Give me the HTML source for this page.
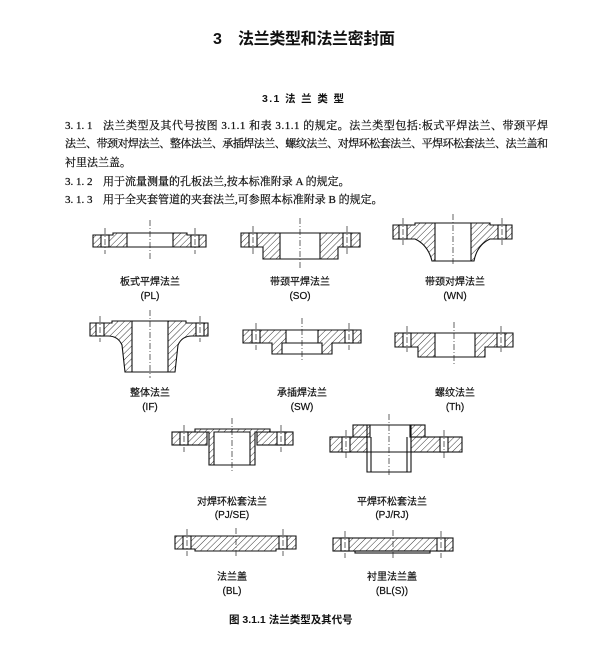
<!DOCTYPE html>
<html><head><meta charset="utf-8"><style>
html,body{margin:0;padding:0;background:#fff;}
svg{display:block;}
.t{font-family:"Liberation Serif","Noto Serif CJK SC",serif;fill:#111;stroke:#111;stroke-width:0.25;}
.b{font-family:"Liberation Sans","Noto Sans CJK SC",sans-serif;fill:#111;font-weight:bold;}
.h{fill:url(#hat);stroke:#111;stroke-width:1.1;}
.w{fill:#fff;stroke:#111;stroke-width:1.1;}
.o{fill:none;stroke:#111;stroke-width:1.1;}
.c{stroke:#222;stroke-width:0.7;stroke-dasharray:6 2 1 2;fill:none;}
.l{font-family:"Liberation Sans","Noto Sans CJK SC",sans-serif;font-size:10px;fill:#111;text-anchor:middle;stroke:#111;stroke-width:0.2;}
</style></head><body>
<svg width="600" height="652" viewBox="0 0 600 652" xmlns="http://www.w3.org/2000/svg">
<defs><pattern id="hat" width="4.5" height="4.5" patternUnits="userSpaceOnUse" patternTransform="rotate(45)"><rect width="4.5" height="4.5" fill="#fff"/><line x1="0" y1="0" x2="0" y2="4.5" stroke="#222" stroke-width="0.9"/></pattern></defs>
<rect width="600" height="652" fill="#fff"/>
<text class="b" x="213" y="44" font-size="16">3</text>
<text class="b" x="238" y="44" font-size="16" textLength="157">法兰类型和法兰密封面</text>
<text class="b" x="262" y="102" font-size="10.5" textLength="82">3.1  法 兰 类 型</text>
<g class="t" font-size="11">
<text x="65" y="129">3. 1. 1</text><text x="103" y="129" textLength="445">法兰类型及其代号按图 3.1.1 和表 3.1.1 的规定。法兰类型包括:板式平焊法兰、带颈平焊</text>
<text x="65" y="147" textLength="483">法兰、带颈对焊法兰、整体法兰、承插焊法兰、螺纹法兰、对焊环松套法兰、平焊环松套法兰、法兰盖和</text>
<text x="65" y="166">衬里法兰盖。</text>
<text x="65" y="185">3. 1. 2</text><text x="103" y="185">用于流量测量的孔板法兰,按本标准附录 A 的规定。</text>
<text x="65" y="203">3. 1. 3</text><text x="103" y="203">用于全夹套管道的夹套法兰,可参照本标准附录 B 的规定。</text>
</g>

<!-- PL -->
<path class="h" d="M93,235H113V233H127V247H93Z"/><path class="h" d="M173,233H187V235H206V247H173Z"/>
<path class="o" d="M127,233H173M127,247H173"/>
<rect class="w" x="101" y="235" width="8" height="12"/><rect class="w" x="191" y="235" width="8" height="12"/>
<path class="c" d="M150,220V260M105,228V254M195,228V254"/>
<!-- SO -->
<path class="h" d="M241,233H280V259H263V247H241Z"/><path class="h" d="M320,233H360V247H338V259H320Z"/>
<path class="o" d="M280,233H320M280,259H320"/>
<rect class="w" x="249" y="233" width="8" height="14"/><rect class="w" x="343" y="233" width="8" height="14"/>
<path class="c" d="M300,218V268M253,226V254M347,226V254"/>
<!-- WN -->
<path class="h" d="M393,225H415V223H435V261H432Q428,245 415,239H393Z"/><path class="h" d="M471,223H490V225H512V239H490Q477,245 474,261H471Z"/>
<path class="o" d="M435,223H471M435,261H471"/>
<rect class="w" x="399" y="225" width="8" height="14"/><rect class="w" x="498" y="225" width="8" height="14"/>
<path class="c" d="M453,214V266M403,218V245M502,218V245"/>
<!-- IF -->
<path class="h" d="M90,323H112V321H132V372H125L122,345Q118,336 108,336H90Z"/><path class="h" d="M168,321H186V323H208V336H192Q182,336 178,345L175,372H168Z"/>
<path class="o" d="M132,321H168M132,372H168"/>
<rect class="w" x="96" y="323" width="8" height="13"/><rect class="w" x="196" y="323" width="8" height="13"/>
<path class="c" d="M150,310V378M100,316V342M200,316V342"/>
<!-- SW -->
<path class="h" d="M243,330H286V343H282V354H272V343H243Z"/><path class="h" d="M318,330H361V343H332V354H322V343H318Z"/>
<path class="o" d="M286,330H318M282,343H322M282,354H322"/>
<rect class="w" x="252" y="330" width="8" height="13"/><rect class="w" x="345" y="330" width="8" height="13"/>
<path class="c" d="M302,318V362M256,323V350M349,323V350"/>
<!-- Th -->
<path class="h" d="M395,333H435V357H418V347H395Z"/><path class="h" d="M475,333H513V347H485V357H475Z"/>
<path class="o" d="M435,333H475M435,357H475"/>
<rect class="w" x="403" y="333" width="8" height="14"/><rect class="w" x="497" y="333" width="8" height="14"/>
<path class="c" d="M454,322V364M407,326V352M501,326V352"/>
<!-- PJ/SE -->
<rect class="h" x="172" y="432" width="35" height="13"/><rect class="h" x="257" y="432" width="36" height="13"/>
<path class="h" d="M195,429H270V432H255V465H250V432H214V465H209V432H195Z"/>
<path class="o" d="M214,465H250"/>
<rect class="w" x="180" y="432" width="8" height="13"/><rect class="w" x="277" y="432" width="8" height="13"/>
<path class="c" d="M232,418V472M184,425V452M281,425V452"/>
<!-- PJ/RJ -->
<rect class="h" x="330" y="437" width="37" height="15"/><rect class="h" x="411" y="437" width="51" height="15"/>
<rect class="h" x="353" y="425" width="17" height="12"/><rect class="h" x="410" y="425" width="15" height="12"/>
<path class="o" d="M367,425V472H411V425M371,437V472M407,437V472M370,425H410M367,452H411"/>
<rect class="w" x="342" y="437" width="8" height="15"/><rect class="w" x="440" y="437" width="8" height="15"/>
<path class="c" d="M389,414V476M346,430V458M444,430V458"/>
<!-- BL -->
<path class="h" d="M175,536H296V549H276V551H195V549H175Z"/>
<rect class="w" x="183" y="536" width="8" height="13"/><rect class="w" x="279" y="536" width="8" height="13"/>
<path class="c" d="M236,528V556M187,529V556M283,529V556"/>
<!-- BL(S) -->
<rect class="h" x="333" y="538" width="120" height="13"/><rect class="o" x="355" y="551" width="75" height="2"/>
<rect class="w" x="341" y="538" width="8" height="13"/><rect class="w" x="437" y="538" width="8" height="13"/>
<path class="c" d="M393,530V558M345,531V558M441,531V558"/>

<text class="l" x="150" y="285">板式平焊法兰</text><text class="l" x="150" y="299">(PL)</text>
<text class="l" x="300" y="285">带颈平焊法兰</text><text class="l" x="300" y="299">(SO)</text>
<text class="l" x="455" y="285">带颈对焊法兰</text><text class="l" x="455" y="299">(WN)</text>
<text class="l" x="150" y="396">整体法兰</text><text class="l" x="150" y="410">(IF)</text>
<text class="l" x="302" y="396">承插焊法兰</text><text class="l" x="302" y="410">(SW)</text>
<text class="l" x="455" y="396">螺纹法兰</text><text class="l" x="455" y="410">(Th)</text>
<text class="l" x="232" y="505">对焊环松套法兰</text><text class="l" x="232" y="518">(PJ/SE)</text>
<text class="l" x="392" y="505">平焊环松套法兰</text><text class="l" x="392" y="518">(PJ/RJ)</text>
<text class="l" x="232" y="580">法兰盖</text><text class="l" x="232" y="594">(BL)</text>
<text class="l" x="392" y="580">衬里法兰盖</text><text class="l" x="392" y="594">(BL(S))</text>
<text class="b" x="229" y="623" font-size="10.5">图 3.1.1  法兰类型及其代号</text>
</svg>
</body></html>
